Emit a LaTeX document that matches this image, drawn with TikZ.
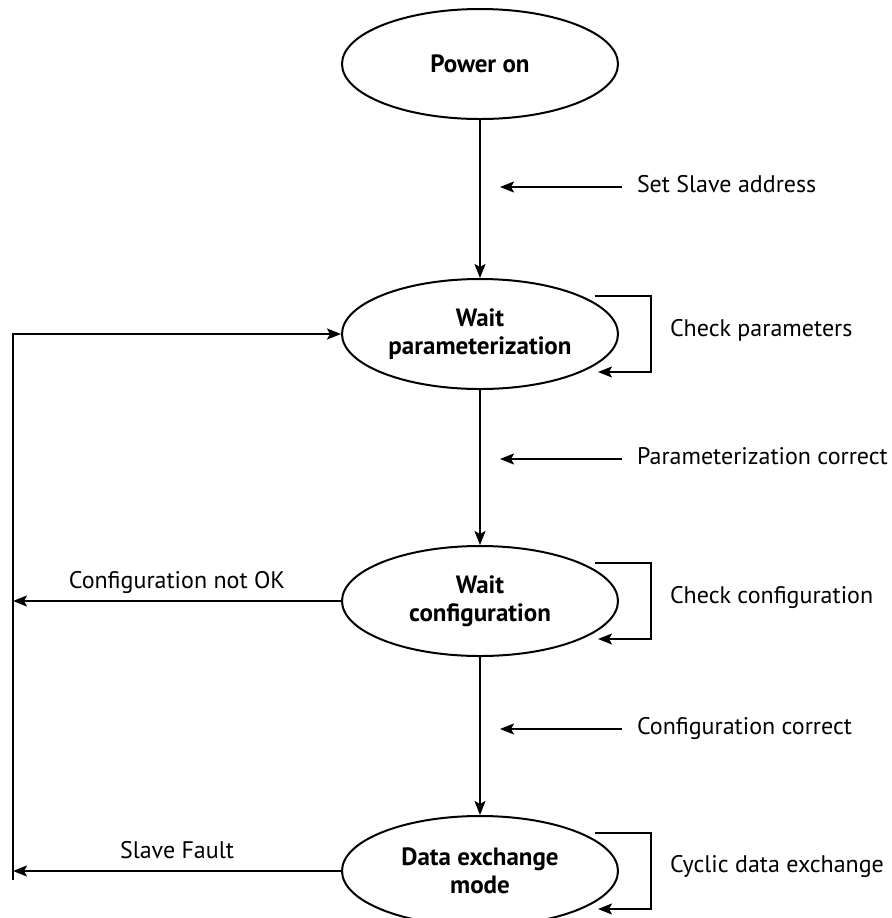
\documentclass[tikz,border=0pt]{standalone}
\usepackage{fontspec}
\setmainfont{PT Sans}
\usepackage{tikz}
\usetikzlibrary{positioning, shapes.geometric, arrows.meta, calc}
\tikzset{state node/.style={ellipse, draw, line width=1pt, minimum width=138pt, minimum height=55pt, inner sep=0pt, align=center, font=\bfseries\fontsize{12.5}{14}\selectfont},
  note node/.style={inner sep=0pt, anchor=west, text height=0.75em, text depth=0.25em, font=\fontsize{12}{14}\selectfont},}

\begin{document}
\begin{tikzpicture}[->, x=0.5pt, y=-0.5pt, line width=1pt, >={Stealth[length=7pt, width=5.5pt, inset=1.5pt]}]
        \useasboundingbox (0,0) rectangle (892,918);
        % Nodes
        \node[state node] (1) at (480,64) {Power on};
        \node[state node] [below = 79pt of 1] (2) {Wait\\parameterization};
        \node[state node] [below = 77.5pt of 2] (3) {Wait\\configuration};
        \node[state node] [below = 79pt of 3] (4) {Data exchange\\mode};
        % Notes
        \node[note node] (n1) at (636,187) {Set Slave address};
        \node[note node] (n2) at (636,459) {Parameterization correct};
        \node[note node] (n3) at (636,729) {Configuration correct};
        \node[note node] (c2) at (669,331) {Check parameters};
        \node[note node] (c3) at (669,598) {Check configuration};
        \node[note node] (c4) at (669,867) {Cyclic data exchange};
        \coordinate (t1) at (500,187);
        \coordinate (t2) at (500,459);
        \coordinate (t3) at (500,729);
        \coordinate (lb) at (13,880);
        \coordinate (l3) at (lb |- 3.west);
        \coordinate (l4) at (lb |- 4.west);
        % Paths
        \path
        (1) edge (2)
        (2) edge (3)
        (3) edge (4)
        ([xshift=-7pt]n1.west) edge (t1)
        ([xshift=-7pt]n2.west) edge (t2)
        ([xshift=-7pt]n3.west) edge (t3)
        (3.west) edge node [above, text depth=0.25em, font=\fontsize{12}{14}\selectfont] {Configuration not OK} (l3)
        (4.west) edge node [above, text depth=0.25em, font=\fontsize{12}{14}\selectfont] {Slave Fault} (l4);
        \draw (lb) |- (2.west);
        % Loops
        \draw ($(2)+(115,-38)$) -- ++(56,0) -- ++(0,76) -- ++(-53,0);
        \draw ($(3)+(115,-38)$) -- ++(56,0) -- ++(0,76) -- ++(-53,0);
        \draw ($(4)+(115,-38)$) -- ++(56,0) -- ++(0,76) -- ++(-53,0);
    \end{tikzpicture}
\end{document}
